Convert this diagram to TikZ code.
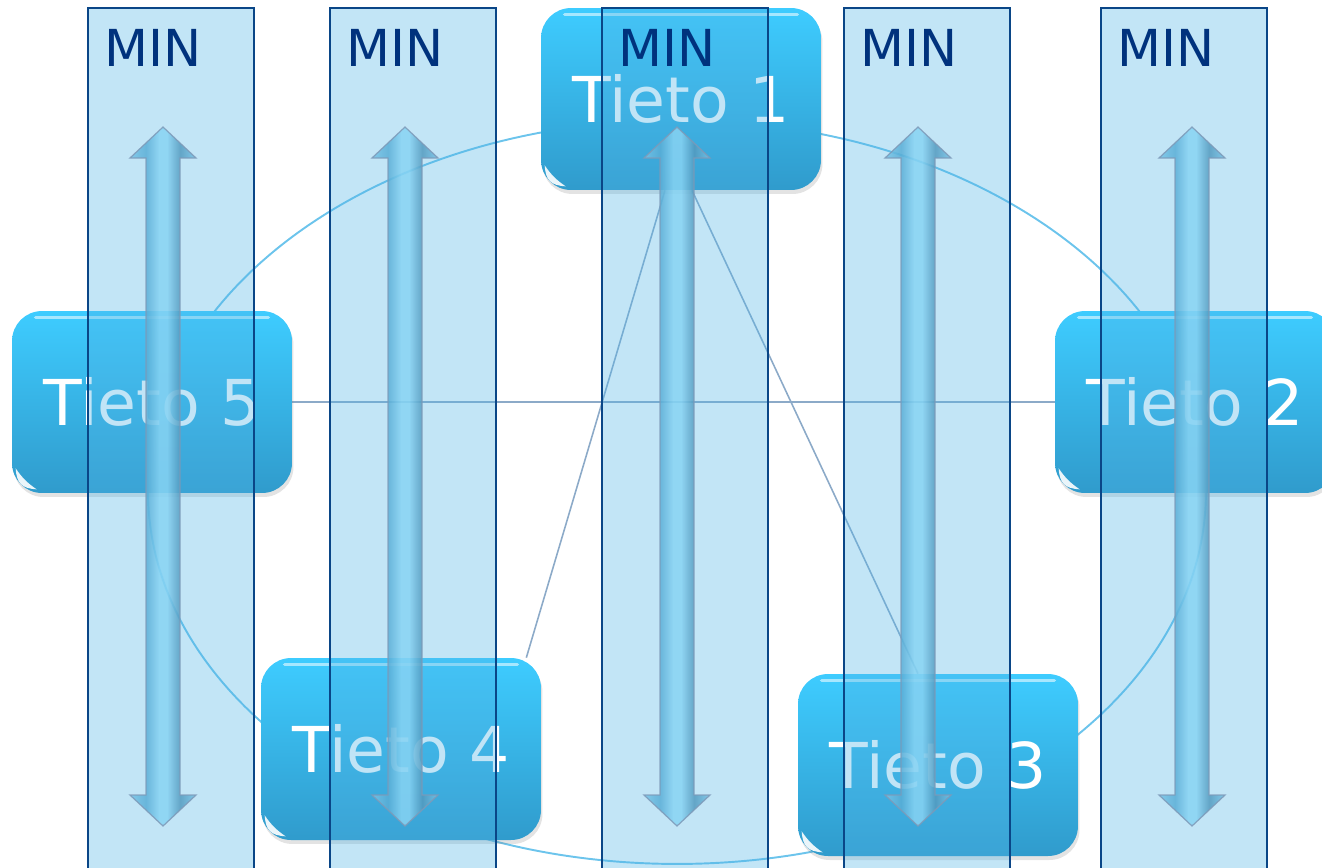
\documentclass[tikz,border=0pt]{standalone}
\usepackage{fontspec}
\setmainfont{DejaVu Sans}
\usetikzlibrary{calc,shadows}
\pgfdeclarelayer{back}
\pgfsetlayers{back,main}
\definecolor{bandfill}{RGB}{80,180,230}
\definecolor{bandline}{RGB}{10,70,135}
\definecolor{mindark}{RGB}{0,50,125}
\definecolor{boxtop}{RGB}{62,204,255}
\definecolor{boxbot}{RGB}{48,155,204}
\definecolor{ringcol}{RGB}{108,196,236}
\definecolor{linkcol}{RGB}{140,170,200}
\definecolor{arrowedge}{RGB}{150,140,160}
\definecolor{arrowwing}{RGB}{140,205,232}
\definecolor{arrowleft}{RGB}{95,170,205}
\definecolor{arrowmid}{RGB}{165,228,250}
\definecolor{arrowright}{RGB}{85,140,170}
\pgfdeclarehorizontalshading{minshade}{100bp}{color(0bp)=(arrowwing); color(25bp)=(arrowwing); color(37bp)=(arrowleft); color(47bp)=(arrowmid); color(53bp)=(arrowmid); color(63bp)=(arrowright); color(75bp)=(arrowwing); color(100bp)=(arrowwing)}
\tikzset{
    band/.style={fill=bandfill, fill opacity=0.35, draw=bandline, draw opacity=1, line width=1.1pt},
    mintext/.style={text=mindark, font=\fontsize{29}{32}\selectfont, anchor=west, inner sep=0pt},
    ring/.style={draw=ringcol, line width=1.1pt},
    link/.style={draw=linkcol, line width=0.9pt},
    tietobox/.style={rounded corners=0.6cm, minimum width=5.6cm, minimum height=3.64cm,
        top color=boxtop, bottom color=boxbot, text=white, font=\fontsize{36}{40}\selectfont,
        drop shadow={opacity=0.22, shadow xshift=0.03cm, shadow yshift=-0.08cm}},
    minarrow/.style={shading=minshade, draw=arrowedge, line width=0.7pt, opacity=0.85},
}
\newcommand\TietoBox[3]{%
    \node[tietobox] (#1) at (#2) {#3};
    \draw[white, opacity=0.55, line width=2pt, line cap=round]
        ($(#1.north west)+(24,7)$) -- ($(#1.north east)+(-24,7)$);
    \fill[white, opacity=0.9] ($(#1.south west)+(4,-25)$)
        .. controls ($(#1.south west)+(5,-10)$) and ($(#1.south west)+(10,-5)$) .. ($(#1.south west)+(25,-4)$)
        .. controls ($(#1.south west)+(16,-10)$) and ($(#1.south west)+(10,-16)$) .. cycle;
}
\newcommand\MinArrow[1]{%
    \path[minarrow] (#1-17,158) -- (#1-33,158) -- (#1,127) -- (#1+33,158) -- (#1+17,158)
        -- (#1+17,795) -- (#1+33,795) -- (#1,826) -- (#1-33,795) -- (#1-17,795) -- cycle;
}
\begin{document}
\begin{tikzpicture}[x=0.02cm, y=-0.02cm]
    \useasboundingbox (0,0) rectangle (1322,867);
    \TietoBox{t1}{681,99}{Tieto 1}
    \TietoBox{t2}{1195,402}{Tieto 2}
    \TietoBox{t3}{938,765}{Tieto 3}
    \TietoBox{t4}{401,749}{Tieto 4}
    \TietoBox{t5}{152,402}{Tieto 5}
    \begin{pgfonlayer}{back}
        \draw[ring] (677,492) ellipse [x radius=10.58cm, y radius=7.44cm];
        \draw[link] ([xshift=-0.32cm]t1.south) -- ([xshift=-0.3cm]t4.north east);
        \draw[link] ([xshift=0.22cm]t1.south) -- ([xshift=-0.4cm]t3.north);
        \draw[link] (t5.east) -- (t2.west);
    \end{pgfonlayer}
    \foreach \ax in {163,405,677,918,1192} {\MinArrow{\ax}}
    \foreach \bx/\i in {88/1,330/2,602/3,844/4,1101/5} {
        \draw[band] (\bx,8) rectangle ++(166,880);
        \node[mintext] (min\i) at (\bx+16,48) {MIN};
    }
\end{tikzpicture}
\end{document}
